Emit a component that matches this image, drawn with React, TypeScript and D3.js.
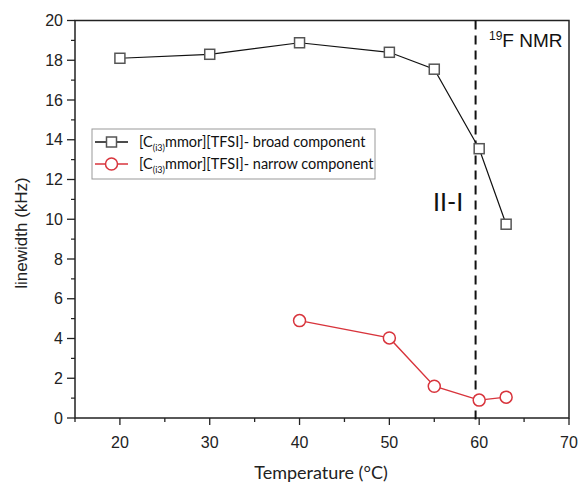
import React from "react";
import * as d3 from "d3";

const broadT = [20, 30, 40, 50, 55, 60, 63];
const broadW = [18.1, 18.3, 18.88, 18.4, 17.55, 13.55, 9.75];
const narrowT = [40, 50, 55, 60, 63];
const narrowW = [4.9, 4.03, 1.6, 0.9, 1.05];
const xTicks = [20, 30, 40, 50, 60, 70];
const yTicks = [0, 2, 4, 6, 8, 10, 12, 14, 16, 18, 20];
const transitionT = 59.6;

export default function App() {
  const W = 582, H = 484;
  const L = 75, R = 569, T = 20.5, B = 418;
  const x = d3.scaleLinear().domain([15, 70]).range([L, R]);
  const y = d3.scaleLinear().domain([0, 20]).range([B, T]);
  const line = d3.line<[number, number]>().x(d => x(d[0])).y(d => y(d[1]));
  const broad = broadT.map((t, i) => [t, broadW[i]] as [number, number]);
  const narrow = narrowT.map((t, i) => [t, narrowW[i]] as [number, number]);
  const xMinor = d3.range(15, 71, 5);
  const yMinor = d3.range(1, 20, 2);
  const arial = "'Liberation Sans', Arial, sans-serif";
  const cal = "Lato, 'Open Sans', sans-serif";
  const red = "#d8343c";
  const sq = 10;
  return (
    <svg width={W} height={H} style={{ position: "absolute", left: 0, top: 0, background: "#fff" }}>
      <rect x={0} y={0} width={W} height={H} fill="#fff" />
      {/* frame */}
      <rect x={L} y={T} width={R - L} height={B - T} fill="none" stroke="#222" strokeWidth={1.5} />
      {/* y ticks */}
      {yTicks.map(v => (
        <g key={"y" + v}>
          <line x1={L - 8} x2={L} y1={y(v)} y2={y(v)} stroke="#222" strokeWidth={1.3} />
          <text x={L - 12} y={y(v)} dy="0.35em" textAnchor="end" fontFamily={arial} fontSize={16} fill="#222">{v}</text>
        </g>
      ))}
      {yMinor.map(v => (
        <line key={"ym" + v} x1={L - 4} x2={L} y1={y(v)} y2={y(v)} stroke="#222" strokeWidth={1.2} />
      ))}
      {/* x ticks */}
      {xMinor.map(v => (
        <line key={"xm" + v} x1={x(v)} x2={x(v)} y1={B} y2={B + (v % 10 === 0 ? 7 : 4)} stroke="#222" strokeWidth={1.3} />
      ))}
      {xTicks.map(v => (
        <text key={"x" + v} x={x(v)} y={B + 30} textAnchor="middle" fontFamily={arial} fontSize={16} fill="#222">{v}</text>
      ))}
      {/* axis titles */}
      <text x={321} y={479} textAnchor="middle" fontFamily={cal} fontSize={18} fill="#222">Temperature (°C)</text>
      <text transform={`translate(27,233) rotate(-90)`} textAnchor="middle" fontFamily={arial} fontSize={17} fill="#222">linewidth (kHz)</text>
      {/* dashed line */}
      <line x1={x(transitionT)} x2={x(transitionT)} y1={T} y2={B + 7} stroke="#111" strokeWidth={2} strokeDasharray="9,6" />
      {/* series */}
      <path d={line(broad) || ""} fill="none" stroke="#111" strokeWidth={1.2} />
      {broad.map((d, i) => (
        <rect key={"b" + i} x={x(d[0]) - sq / 2} y={y(d[1]) - sq / 2} width={sq} height={sq} fill="#fff" stroke="#555" strokeWidth={1.5} />
      ))}
      <path d={line(narrow) || ""} fill="none" stroke={red} strokeWidth={1.4} />
      {narrow.map((d, i) => (
        <circle key={"n" + i} cx={x(d[0])} cy={y(d[1])} r={6} fill="#fff" stroke={red} strokeWidth={1.5} />
      ))}
      {/* annotations */}
      <text x={433} y={211} fontFamily={cal} fontSize={25} fill="#111">II-I</text>
      <text x={489} y={47} fontFamily={arial} fontSize={19} fill="#111">
        <tspan fontSize={12} dy={-7}>19</tspan>
        <tspan dy={7}>F NMR</tspan>
      </text>
      {/* legend */}
      <rect x={92} y={129} width={283} height={50} fill="#fff" stroke="#999" strokeWidth={1} />
      <line x1={95} x2={128} y1={142} y2={142} stroke="#111" strokeWidth={1.5} />
      <rect x={111.5 - 5} y={137} width={10} height={10} fill="#fff" stroke="#555" strokeWidth={1.5} />
      <text x={139} y={147} fontFamily={cal} fontSize={14.5} fill="#111">
        [C<tspan fontSize={9} dy={4}>(i3)</tspan><tspan dy={-4}>mmor][TFSI]- broad component</tspan>
      </text>
      <line x1={95} x2={128} y1={164} y2={164} stroke={red} strokeWidth={1.5} />
      <circle cx={111.5} cy={164} r={6} fill="#fff" stroke={red} strokeWidth={1.5} />
      <text x={139} y={169} fontFamily={cal} fontSize={14.5} fill="#111">
        [C<tspan fontSize={9} dy={4}>(i3)</tspan><tspan dy={-4}>mmor][TFSI]- narrow component</tspan>
      </text>
    </svg>
  );
}
